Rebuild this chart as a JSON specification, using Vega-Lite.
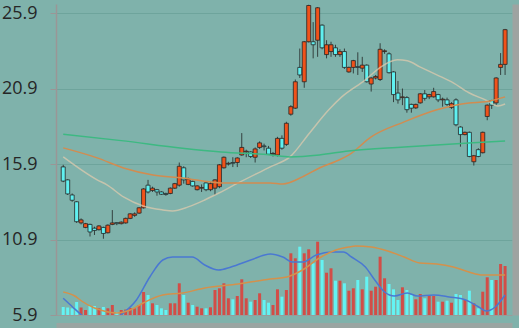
{
"$schema": "https://vega.github.io/schema/vega-lite/v6.json",
"width": 456, "height": 311,
"autosize": {"type": "none"},
"padding": {"left": 56, "top": 4, "right": 7, "bottom": 13},
"background": "#7fb2ab",
"config": {"view": {"stroke": null}},
"datasets": {
"k": [
{"i":0,"o":15.71,"h":15.85,"l":14.7,"c":14.77,"v":8},
{"i":1,"o":14.85,"h":14.9,"l":13.85,"c":13.92,"v":7.5},
{"i":2,"o":13.85,"h":13.95,"l":13.4,"c":13.5,"v":6.7},
{"i":3,"o":13.4,"h":13.45,"l":12.0,"c":12.08,"v":13},
{"i":4,"o":12.0,"h":12.3,"l":11.9,"c":12.2,"v":7.5},
{"i":5,"o":11.7,"h":12.0,"l":11.65,"c":11.95,"v":5},
{"i":6,"o":11.9,"h":11.95,"l":11.1,"c":11.4,"v":9},
{"i":7,"o":11.65,"h":11.75,"l":11.2,"c":11.5,"v":9},
{"i":8,"o":11.55,"h":11.85,"l":11.5,"c":11.8,"v":6.7},
{"i":9,"o":11.7,"h":11.75,"l":10.95,"c":11.3,"v":8},
{"i":10,"o":11.35,"h":11.9,"l":11.3,"c":11.85,"v":6.7},
{"i":11,"o":11.9,"h":12.85,"l":11.85,"c":12.0,"v":10},
{"i":12,"o":12.02,"h":12.05,"l":11.85,"c":11.95,"v":3},
{"i":13,"o":11.95,"h":12.1,"l":11.9,"c":12.05,"v":5},
{"i":14,"o":12.0,"h":12.35,"l":11.95,"c":12.3,"v":5.5},
{"i":15,"o":12.3,"h":12.65,"l":12.25,"c":12.6,"v":7},
{"i":16,"o":12.5,"h":12.7,"l":12.4,"c":12.6,"v":6.7},
{"i":17,"o":12.65,"h":13.05,"l":12.6,"c":13.0,"v":10},
{"i":18,"o":13.0,"h":14.3,"l":12.95,"c":14.25,"v":23},
{"i":19,"o":14.5,"h":14.85,"l":13.95,"c":14.05,"v":20},
{"i":20,"o":14.15,"h":14.4,"l":14.05,"c":14.3,"v":11.7},
{"i":21,"o":14.2,"h":14.25,"l":13.8,"c":14.05,"v":10},
{"i":22,"o":14.05,"h":14.1,"l":13.85,"c":13.9,"v":6.7},
{"i":23,"o":13.95,"h":14.0,"l":13.8,"c":13.88,"v":5},
{"i":24,"o":13.95,"h":14.35,"l":13.9,"c":14.3,"v":11.7},
{"i":25,"o":14.3,"h":14.65,"l":14.25,"c":14.6,"v":11.7},
{"i":26,"o":14.5,"h":16.0,"l":14.4,"c":15.75,"v":31.7},
{"i":27,"o":15.65,"h":15.75,"l":14.6,"c":14.85,"v":20},
{"i":28,"o":14.55,"h":15.0,"l":14.5,"c":14.9,"v":12.3},
{"i":29,"o":14.75,"h":14.8,"l":14.4,"c":14.45,"v":10},
{"i":30,"o":14.2,"h":14.5,"l":14.15,"c":14.45,"v":8.3},
{"i":31,"o":14.3,"h":14.55,"l":14.05,"c":14.35,"v":6.7},
{"i":32,"o":14.65,"h":14.7,"l":14.1,"c":14.2,"v":6.7},
{"i":33,"o":14.2,"h":14.7,"l":14.1,"c":14.6,"v":7.7},
{"i":34,"o":14.3,"h":14.9,"l":13.85,"c":14.85,"v":25},
{"i":35,"o":14.4,"h":15.9,"l":14.3,"c":15.85,"v":26.7},
{"i":36,"o":15.65,"h":16.4,"l":15.6,"c":16.35,"v":31.7},
{"i":37,"o":15.9,"h":16.05,"l":15.8,"c":15.95,"v":16.7},
{"i":38,"o":16.0,"h":16.35,"l":15.7,"c":15.95,"v":15.7},
{"i":39,"o":16.0,"h":16.35,"l":15.7,"c":16.3,"v":19},
{"i":40,"o":16.5,"h":17.95,"l":16.45,"c":17.0,"v":35.7},
{"i":41,"o":16.7,"h":16.85,"l":16.35,"c":16.75,"v":16.7},
{"i":42,"o":16.7,"h":16.75,"l":16.3,"c":16.4,"v":13.3},
{"i":43,"o":16.35,"h":17.0,"l":16.0,"c":16.9,"v":15},
{"i":44,"o":17.0,"h":17.4,"l":16.9,"c":17.3,"v":21.7},
{"i":45,"o":17.1,"h":17.25,"l":16.8,"c":17.05,"v":15},
{"i":46,"o":16.95,"h":17.1,"l":16.5,"c":16.55,"v":12.3},
{"i":47,"o":16.55,"h":16.7,"l":16.4,"c":16.6,"v":10},
{"i":48,"o":16.5,"h":17.7,"l":16.4,"c":17.6,"v":25.7},
{"i":49,"o":17.6,"h":17.8,"l":16.85,"c":16.95,"v":18.3},
{"i":50,"o":17.2,"h":18.7,"l":17.1,"c":18.6,"v":25},
{"i":51,"o":19.2,"h":19.8,"l":19.1,"c":19.7,"v":61.7},
{"i":52,"o":19.6,"h":21.5,"l":19.55,"c":21.35,"v":56.7},
{"i":53,"o":22.3,"h":23.55,"l":21.6,"c":21.8,"v":68.3},
{"i":54,"o":21.35,"h":24.05,"l":20.95,"c":24.0,"v":61.7},
{"i":55,"o":24.0,"h":26.45,"l":23.95,"c":26.4,"v":65.7},
{"i":56,"o":24.0,"h":25.3,"l":22.9,"c":23.8,"v":51.7},
{"i":57,"o":24.1,"h":26.3,"l":23.0,"c":26.25,"v":73.3},
{"i":58,"o":25.1,"h":25.15,"l":23.5,"c":23.6,"v":55},
{"i":59,"o":23.15,"h":24.1,"l":22.9,"c":23.8,"v":42.3},
{"i":60,"o":23.35,"h":24.0,"l":23.0,"c":23.8,"v":46.7},
{"i":61,"o":23.6,"h":23.8,"l":23.0,"c":23.15,"v":34.3},
{"i":62,"o":23.15,"h":23.5,"l":23.0,"c":23.35,"v":34.3},
{"i":63,"o":23.35,"h":23.55,"l":22.2,"c":22.3,"v":31.7},
{"i":64,"o":22.0,"h":22.35,"l":21.95,"c":22.3,"v":24.3},
{"i":65,"o":22.3,"h":22.8,"l":21.9,"c":22.75,"v":26.7},
{"i":66,"o":22.35,"h":23.3,"l":21.8,"c":22.3,"v":35},
{"i":67,"o":22.25,"h":23.0,"l":22.0,"c":22.45,"v":25.7},
{"i":68,"o":22.45,"h":22.5,"l":21.3,"c":21.35,"v":38.3},
{"i":69,"o":21.2,"h":21.65,"l":20.7,"c":21.6,"v":24.3},
{"i":70,"o":21.6,"h":21.8,"l":21.5,"c":21.7,"v":28.3},
{"i":71,"o":21.5,"h":23.9,"l":21.4,"c":23.5,"v":58.3},
{"i":72,"o":23.35,"h":23.5,"l":23.2,"c":23.4,"v":36.7},
{"i":73,"o":23.2,"h":23.3,"l":21.9,"c":21.95,"v":31},
{"i":74,"o":22.0,"h":22.05,"l":20.0,"c":20.5,"v":25.7},
{"i":75,"o":20.6,"h":21.4,"l":19.9,"c":20.15,"v":15},
{"i":76,"o":20.3,"h":20.9,"l":19.8,"c":20.35,"v":27.7},
{"i":77,"o":20.3,"h":20.4,"l":19.3,"c":19.5,"v":25},
{"i":78,"o":19.85,"h":19.9,"l":19.3,"c":19.6,"v":20},
{"i":79,"o":19.62,"h":19.9,"l":19.55,"c":19.85,"v":15.7},
{"i":80,"o":19.95,"h":20.6,"l":19.9,"c":20.55,"v":21},
{"i":81,"o":20.55,"h":20.8,"l":20.1,"c":20.25,"v":16.7},
{"i":82,"o":20.35,"h":20.55,"l":20.2,"c":20.5,"v":19},
{"i":83,"o":20.35,"h":20.95,"l":20.3,"c":20.7,"v":19},
{"i":84,"o":20.5,"h":20.55,"l":20.0,"c":20.15,"v":13.3},
{"i":85,"o":20.15,"h":20.3,"l":19.7,"c":20.2,"v":13.3},
{"i":86,"o":20.15,"h":20.3,"l":19.75,"c":19.85,"v":14.3},
{"i":87,"o":19.65,"h":20.0,"l":19.55,"c":19.9,"v":12.3},
{"i":88,"o":20.15,"h":20.25,"l":18.4,"c":18.5,"v":21},
{"i":89,"o":18.35,"h":18.4,"l":17.05,"c":17.85,"v":20},
{"i":90,"o":17.85,"h":18.05,"l":17.8,"c":18.0,"v":15},
{"i":91,"o":18.0,"h":18.05,"l":16.35,"c":16.4,"v":24.3},
{"i":92,"o":16.05,"h":16.5,"l":15.8,"c":16.45,"v":11.7},
{"i":93,"o":16.85,"h":16.95,"l":16.35,"c":16.4,"v":6.7},
{"i":94,"o":16.65,"h":18.05,"l":16.6,"c":18.0,"v":23.3},
{"i":95,"o":19.05,"h":19.85,"l":18.8,"c":19.8,"v":37.7},
{"i":96,"o":20.1,"h":20.15,"l":19.55,"c":19.8,"v":35},
{"i":97,"o":19.95,"h":21.65,"l":19.8,"c":21.6,"v":35},
{"i":98,"o":22.3,"h":23.25,"l":21.8,"c":22.5,"v":51},
{"i":99,"o":22.5,"h":24.85,"l":21.8,"c":24.8,"v":49}
],
"ma": [
{"s":"a","i":0,"v":16.37},{"s":"a","i":7.6,"v":14.85},{"s":"a","i":9.8,"v":14.52},{"s":"a","i":13.5,"v":13.72},{"s":"a","i":17.9,"v":13.12},{"s":"a","i":22.3,"v":12.86},{"s":"a","i":24.5,"v":12.79},{"s":"a","i":28,"v":13.06},{"s":"a","i":31.7,"v":13.52},{"s":"a","i":35,"v":14.0},{"s":"a","i":39.2,"v":14.65},{"s":"a","i":46.4,"v":15.71},{"s":"a","i":50.8,"v":16.37},{"s":"a","i":55.2,"v":17.96},{"s":"a","i":59.5,"v":19.49},{"s":"a","i":62.4,"v":20.35},{"s":"a","i":67.7,"v":21.48},{"s":"a","i":71.2,"v":22.34},{"s":"a","i":74.9,"v":22.8},{"s":"a","i":77.1,"v":22.74},{"s":"a","i":79.9,"v":22.34},{"s":"a","i":83.7,"v":21.81},{"s":"a","i":87.4,"v":21.28},{"s":"a","i":90.9,"v":20.62},{"s":"a","i":94.6,"v":20.15},{"s":"a","i":97.4,"v":19.75},{"s":"a","i":99,"v":19.88},
{"s":"b","i":0,"v":16.97},{"s":"b","i":7.6,"v":16.31},{"s":"b","i":13.5,"v":15.64},{"s":"b","i":20.1,"v":15.18},{"s":"b","i":26.7,"v":14.98},{"s":"b","i":35.4,"v":14.65},{"s":"b","i":46.4,"v":14.65},{"s":"b","i":49.2,"v":14.58},{"s":"b","i":53.6,"v":15.05},{"s":"b","i":57.4,"v":15.64},{"s":"b","i":61.8,"v":16.17},{"s":"b","i":64,"v":16.5},{"s":"b","i":69,"v":17.7},{"s":"b","i":76.4,"v":18.69},{"s":"b","i":83.7,"v":19.49},{"s":"b","i":90.9,"v":19.95},{"s":"b","i":94.6,"v":20.02},{"s":"b","i":99,"v":20.35},
{"s":"c","i":0,"v":17.87},{"s":"c","i":13,"v":17.45},{"s":"c","i":26.7,"v":16.95},{"s":"c","i":35.4,"v":16.7},{"s":"c","i":46.4,"v":16.5},{"s":"c","i":50.8,"v":16.37},{"s":"c","i":57.4,"v":16.5},{"s":"c","i":63.9,"v":16.77},{"s":"c","i":76.4,"v":17.03},{"s":"c","i":90.9,"v":17.3},{"s":"c","i":99,"v":17.43}
],
"vma": [
{"s":"d","i":0,"v":16.7},{"s":"d","i":2.1,"v":8},{"s":"d","i":4.1,"v":0},{"s":"d","i":8.5,"v":-12},{"s":"d","i":12.9,"v":0},{"s":"d","i":16.4,"v":15},{"s":"d","i":19.4,"v":38},{"s":"d","i":22.3,"v":55},{"s":"d","i":24.5,"v":58},{"s":"d","i":28.9,"v":58},{"s":"d","i":31.7,"v":50},{"s":"d","i":34.8,"v":45},{"s":"d","i":37.6,"v":48},{"s":"d","i":42,"v":55},{"s":"d","i":46.4,"v":61},{"s":"d","i":49.2,"v":58},{"s":"d","i":51.4,"v":53},{"s":"d","i":53.6,"v":53},{"s":"d","i":56.7,"v":60},{"s":"d","i":60.2,"v":63},{"s":"d","i":62.8,"v":63},{"s":"d","i":64.6,"v":58},{"s":"d","i":67.7,"v":48},{"s":"d","i":69.8,"v":35},{"s":"d","i":72,"v":23},{"s":"d","i":74.2,"v":19},{"s":"d","i":77.1,"v":22},{"s":"d","i":79.3,"v":19},{"s":"d","i":83,"v":20},{"s":"d","i":86.5,"v":18},{"s":"d","i":90.2,"v":15},{"s":"d","i":93.1,"v":8},{"s":"d","i":94.8,"v":4},{"s":"d","i":96.8,"v":8},{"s":"d","i":99,"v":20},
{"s":"e","i":0,"v":23},{"s":"e","i":2.6,"v":19},{"s":"e","i":4.1,"v":14},{"s":"e","i":7,"v":7},{"s":"e","i":9.1,"v":4},{"s":"e","i":12,"v":2},{"s":"e","i":15,"v":5},{"s":"e","i":17.9,"v":12},{"s":"e","i":22.3,"v":20},{"s":"e","i":26.7,"v":22},{"s":"e","i":31.7,"v":27},{"s":"e","i":39.2,"v":31},{"s":"e","i":46.4,"v":36},{"s":"e","i":50.1,"v":38},{"s":"e","i":53.6,"v":45},{"s":"e","i":57.4,"v":57},{"s":"e","i":61.1,"v":65},{"s":"e","i":64,"v":68},{"s":"e","i":65.5,"v":69},{"s":"e","i":69,"v":68},{"s":"e","i":72.7,"v":64},{"s":"e","i":76.4,"v":58},{"s":"e","i":79.9,"v":52},{"s":"e","i":83.7,"v":51},{"s":"e","i":87.4,"v":48},{"s":"e","i":90.9,"v":43},{"s":"e","i":94,"v":40},{"s":"e","i":99,"v":40}
]
},
"encoding": {
"x": {"field": "i", "type": "quantitative", "scale": {"domain": [-0.5, 99.43], "nice": false, "zero": false},
"axis": {"labels": false, "ticks": false, "grid": false, "title": null, "domainColor": "#9aa5a2", "domainWidth": 5, "offset": 10}}
},
"layer": [
{"layer": [
{"data": {"name": "k"}, "mark": {"type": "rule", "strokeWidth": 1, "color": "#34403f"},
"encoding": {
"y": {"field": "l", "type": "quantitative", "scale": {"domain": [5.9, 26.5], "nice": false, "zero": false},
"axis": {"values": [5.9, 10.9, 15.9, 20.9, 25.9], "format": ".1f", "title": null, "labelFont": "Open Sans", "labelFontSize": 18, "labelColor": "#262626", "labelPadding": 13, "labelFlush": false, "labelOverlap": false, "tickSize": 6, "tickColor": "#9a9696", "tickWidth": 1, "domainColor": "#9a9696", "domainWidth": 1.5,
"gridColor": {"condition": {"test": "datum.value < 6", "value": "#999c9a"}, "value": "#6ea49c"}, "gridWidth": 1}},
"y2": {"field": "h"}}},
{"data": {"name": "k"}, "mark": {"type": "bar", "width": 4, "stroke": "#262626", "strokeWidth": 0.8},
"encoding": {
"y": {"field": "o", "type": "quantitative"},
"y2": {"field": "c"},
"color": {"condition": {"test": "datum.c >= datum.o", "value": "#f0521a"}, "value": "#60f0f0"}}},
{"data": {"name": "ma"}, "mark": {"type": "line", "strokeWidth": 1.5, "interpolate": "monotone"},
"encoding": {
"y": {"field": "v", "type": "quantitative"},
"opacity": {"condition": {"test": "datum.s == 'a'", "value": 0.75}, "value": 1},
"color": {"field": "s", "type": "nominal", "scale": {"domain": ["a", "b", "c", "d", "e"], "range": ["#dccaae", "#d28c50", "#3db982", "#4a78d2", "#d4914b"]}, "legend": null}}}
]},
{"layer": [
{"data": {"name": "k"}, "mark": {"type": "bar", "width": 3},
"encoding": {
"y": {"field": "v", "type": "quantitative", "scale": {"domain": [0, 311], "nice": false},
"axis": {"orient": "right", "labels": false, "ticks": false, "grid": false, "title": null, "domainColor": "#9ea3a1", "domainWidth": 7, "offset": 3.5}},
"color": {"condition": {"test": "datum.c >= datum.o", "value": "#d24d47"}, "value": "#64f3f3"}}},
{"data": {"name": "vma"}, "mark": {"type": "line", "strokeWidth": 1.5, "interpolate": "monotone", "clip": true},
"encoding": {
"y": {"field": "v", "type": "quantitative"},
"color": {"field": "s", "type": "nominal", "legend": null}}}
]}
],
"resolve": {"scale": {"y": "independent"}}
}
